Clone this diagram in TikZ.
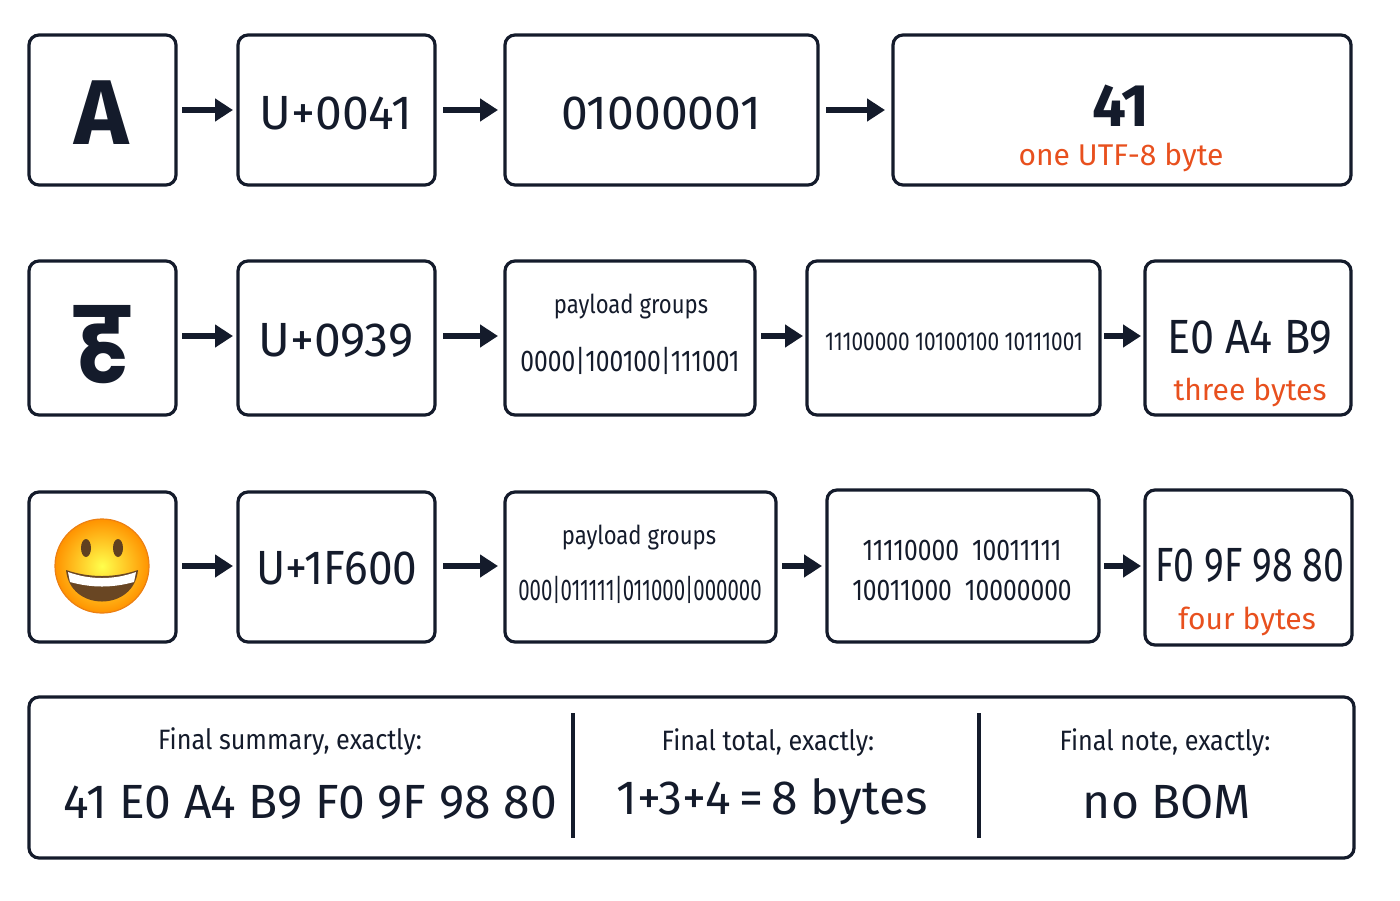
\documentclass[tikz,border=0pt]{standalone}
\usepackage{fontspec}
\setmainfont{Fira Sans}
\newfontfamily\deva{Poppins}
\usetikzlibrary{arrows.meta}
\definecolor{ink}{HTML}{141B2B}
\definecolor{org}{HTML}{E8501E}
\newcommand{\fs}[1]{\fontsize{#1}{#1}\selectfont}
\begin{document}
\begin{tikzpicture}[x=0.5pt,y=-0.5pt,
  box/.style={draw=ink,line width=1.6pt,rounded corners=5pt},
  arr/.style={-{Triangle[length=9pt,width=11pt]},line width=3pt,ink},
  txt/.style={text=ink,inner sep=0pt,anchor=center}]
\useasboundingbox (0,0) rectangle (1400,900);
% row 1
\draw[box] (29,35) rectangle (176,185);
\draw[box] (238,35) rectangle (435,185);
\draw[box] (505,35) rectangle (818,185);
\draw[box] (893,35) rectangle (1351,185);
\node[txt,font=\fs{46}\bfseries] (A) at (102,113) {A};
\node[txt,font=\fs{24}] (u1) at (336,113) {U+0041};
\node[txt,font=\fs{24}] (b1) at (661,113) {01000001};
\node[txt,font=\fs{30}\bfseries] (h1) at (1121,106) {41};
\node[txt,font=\fs{15},text=org] (n1) at (1121,157) {one UTF-8 byte};
\coordinate (r1a) at (182,110); \coordinate (r1b) at (233,110);
\coordinate (r1c) at (443,110); \coordinate (r1d) at (498,110);
\coordinate (r1e) at (826,110); \coordinate (r1f) at (885,110);
\draw[arr] (r1a)--(r1b); \draw[arr] (r1c)--(r1d); \draw[arr] (r1e)--(r1f);
% row 2
\draw[box] (29,261) rectangle (176,415);
\draw[box] (238,261) rectangle (435,415);
\draw[box] (505,261) rectangle (755,415);
\draw[box] (807,261) rectangle (1100,415);
\draw[box] (1145,261) rectangle (1351,415);
\node[txt,font=\deva\fs{46}\bfseries] (ha) at (102,345) {ह};
\node[txt,font=\fs{24}] (u2) at (336,340) {U+0939};
\node[txt,font=\fs{13},xscale=0.85] (p2) at (631,307) {payload groups};
\node[txt,font=\fs{15},xscale=0.82] (g2) at (630,361) {0000|100100|111001};
\node[txt,font=\fs{13},xscale=0.8] (b2) at (954,342) {11100000 10100100 10111001};
\node[txt,font=\fs{24},xscale=0.9] (h2) at (1250,337) {E0 A4 B9};
\node[txt,font=\fs{15},text=org] (n2) at (1250,392) {three bytes};
\coordinate (r2a) at (182,336); \coordinate (r2b) at (233,336);
\coordinate (r2c) at (443,336); \coordinate (r2d) at (498,336);
\coordinate (r2e) at (761,336); \coordinate (r2f) at (803,336);
\coordinate (r2g) at (1104,336); \coordinate (r2h) at (1141,336);
\draw[arr] (r2a)--(r2b); \draw[arr] (r2c)--(r2d); \draw[arr] (r2e)--(r2f); \draw[arr] (r2g)--(r2h);
% row 3
\draw[box] (29,492) rectangle (176,642);
\draw[box] (238,492) rectangle (435,642);
\draw[box] (505,492) rectangle (776,642);
\draw[box] (827,490) rectangle (1099,642);
\draw[box] (1145,490) rectangle (1352,645);
% emoji
\shade[inner color=yellow!70!white,outer color=orange!85!yellow] (102,566) circle[radius=47];
\draw[orange!70!brown,line width=0.6pt] (102,566) circle[radius=47];
\fill[brown!50!black] (86,548) ellipse[x radius=5,y radius=9];
\fill[brown!50!black] (118,548) ellipse[x radius=5,y radius=9];
\fill[brown!55!black] (66,570) .. controls (70,612) and (134,612) .. (138,570) .. controls (115,578) and (89,578) .. (66,570) -- cycle;
\fill[white] (68,572) .. controls (90,580) and (114,580) .. (136,572) -- (134,582) .. controls (112,588) and (92,588) .. (70,582) -- cycle;
\node[txt,font=\fs{24},xscale=0.92] (u3) at (337,568) {U+1F600};
\node[txt,font=\fs{13},xscale=0.85] (p3) at (639,538) {payload groups};
\node[txt,font=\fs{15},xscale=0.68] (g3) at (640,590) {000|011111|011000|000000};
\node[txt,font=\fs{15},xscale=0.82] (b3a) at (962,550) {11110000~~10011111};
\node[txt,font=\fs{15},xscale=0.82] (b3b) at (962,590) {10011000~~10000000};
\node[txt,font=\fs{24},xscale=0.78] (h3) at (1250,565) {F0 9F 98 80};
\node[txt,font=\fs{15},text=org] (n3) at (1247,621) {four bytes};
\coordinate (r3a) at (182,566); \coordinate (r3b) at (233,566);
\coordinate (r3c) at (443,566); \coordinate (r3d) at (498,566);
\coordinate (r3e) at (782,566); \coordinate (r3f) at (822,566);
\coordinate (r3g) at (1104,566); \coordinate (r3h) at (1141,566);
\draw[arr] (r3a)--(r3b); \draw[arr] (r3c)--(r3d); \draw[arr] (r3e)--(r3f); \draw[arr] (r3g)--(r3h);
% summary
\draw[box] (29,697) rectangle (1354,858);
\coordinate (d1a) at (573,713); \coordinate (d1b) at (573,838);
\coordinate (d2a) at (979,713); \coordinate (d2b) at (979,838);
\draw[ink,line width=1.8pt] (d1a)--(d1b); \draw[ink,line width=1.8pt] (d2a)--(d2b);
\node[txt,font=\fs{14},xscale=0.9] (s1) at (290,742) {Final summary, exactly:};
\node[txt,font=\fs{24}] (s1b) at (310,802) {41 E0 A4 B9 F0 9F 98 80};
\node[txt,font=\fs{14},xscale=0.9] (s2) at (768,743) {Final total, exactly:};
\node[txt,font=\fs{24}] (s2b) at (772,802) {1+3+4\,=\,8 bytes};
\node[txt,font=\fs{14},xscale=0.9] (s3) at (1165,743) {Final note, exactly:};
\node[txt,font=\fs{24}] (s3b) at (1167,802) {no BOM};
\end{tikzpicture}
\end{document}
